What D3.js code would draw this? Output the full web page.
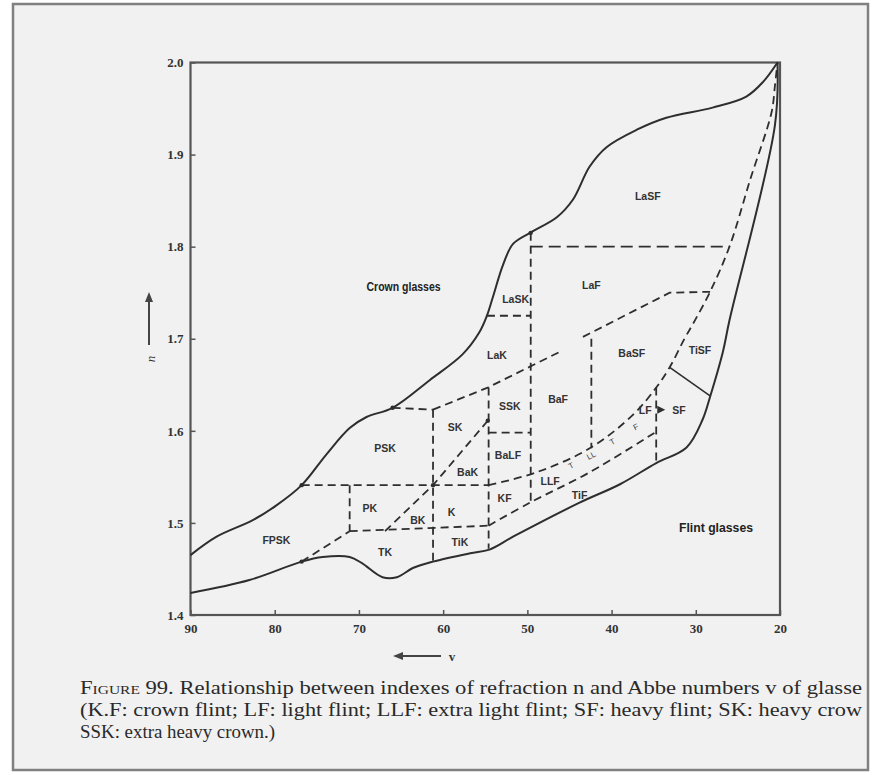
<!DOCTYPE html>
<html>
<head>
<meta charset="utf-8">
<script src="https://cdn.jsdelivr.net/npm/d3@7"></script>
<style>
  html, body { margin: 0; padding: 0; background: #ffffff; }
  svg { display: block; }
</style>
</head>
<body>
<svg id="chart" width="880" height="775"></svg>
<script>
// ---------- data (Abbe number v, refractive index n) ----------
const abbeTicks = [90, 80, 70, 60, 50, 40, 30, 20];
const indexTicks = [1.4, 1.5, 1.6, 1.7, 1.8, 1.9, 2.0];

// upper boundary of the glass field (crown side)
const upperV = [90.0, 86.9, 82.6, 79.8, 76.8, 73.9, 71.1, 69.1, 66.0, 61.6, 57.7, 55.7, 54.8, 54.1, 52.9, 51.7, 49.7, 46.5, 44.6, 42.6, 40.6, 37.0, 33.5, 28.0, 24.0, 22.0, 20.3];
const upperN = [1.465, 1.485, 1.503, 1.519, 1.541, 1.574, 1.603, 1.615, 1.625, 1.655, 1.683, 1.707, 1.725, 1.745, 1.780, 1.803, 1.815, 1.832, 1.851, 1.887, 1.908, 1.927, 1.940, 1.951, 1.963, 1.979, 2.000];

// lower boundary of the glass field (flint side)
const lowerV = [20.3, 20.6, 26.0, 26.8, 28.3, 29.2, 31.1, 34.7, 39.0, 43.8, 51.7, 54.5, 56.8, 61.2, 63.6, 65.5, 67.2, 69.6, 71.1, 74.3, 76.8, 83.0, 90.0];
const lowerN = [2.000, 1.932, 1.720, 1.685, 1.637, 1.612, 1.582, 1.565, 1.542, 1.522, 1.485, 1.471, 1.467, 1.458, 1.451, 1.441, 1.441, 1.456, 1.463, 1.463, 1.458, 1.438, 1.424];

// dashed band boundaries (curved)
const bandUpperV = [54.6, 48.9, 42.6, 37.5, 34.7, 33.1, 31.4, 30.1, 28.3, 26.0, 23.5, 21.0, 20.6, 20.3];
const bandUpperN = [1.541, 1.555, 1.581, 1.617, 1.647, 1.669, 1.699, 1.720, 1.751, 1.800, 1.874, 1.946, 1.975, 2.000];
const bandMiddleV = [54.6, 49.7, 42.6, 34.7];
const bandMiddleN = [1.497, 1.522, 1.555, 1.599];

// dashed straight boundaries [v, n]
const n18Line    = [[49.6, 1.800], [26.0, 1.800]];
const laskBase   = [[54.8, 1.725], [49.6, 1.725]];
const v50Line    = [[49.6, 1.815], [49.6, 1.520]];
const lakBase    = [[61.2, 1.623], [54.7, 1.647], [46.1, 1.686]];
const pskTop     = [[66.0, 1.625], [61.2, 1.623]];
const v61Line    = [[61.2, 1.623], [61.2, 1.458]];
const v55Line    = [[54.6, 1.647], [54.6, 1.472]];
const skDiagonal = [[66.9, 1.491], [61.2, 1.541], [54.7, 1.611]];
const balfTop    = [[54.6, 1.598], [49.6, 1.598]];
const n154Line   = [[76.8, 1.541], [54.6, 1.541]];
const pkLeft     = [[71.1, 1.541], [71.1, 1.491]];
const pkBottom   = [[71.1, 1.491], [54.6, 1.497]];
const fpskLine   = [[76.8, 1.458], [71.1, 1.491]];
const basfTop    = [[43.4, 1.702], [33.1, 1.750], [28.3, 1.751]];
const v42Line    = [[42.4, 1.700], [42.4, 1.581]];
const v35Line    = [[34.7, 1.647], [34.7, 1.565]];
const tisfDivider = [[33.1, 1.669], [28.3, 1.638]];

// region labels
const regionNames = ["LaSF", "LaF", "LaSK", "LaK", "BaSF", "TiSF", "SSK", "BaF", "BaLF", "KF", "SK", "PSK", "BaK", "PK", "BK", "K", "TK", "TiK", "FPSK", "TiF", "LLF", "LF", "SF"];
const regionV = [35.7, 42.4, 51.4, 53.6, 37.6, 29.5, 52.1, 46.35, 52.3, 52.7, 58.6, 66.9, 57.1, 68.7, 63.0, 59.0, 66.9, 58.0, 79.8, 43.8, 47.3, 36.0, 32.0];
const regionN = [1.855, 1.758, 1.743, 1.682, 1.684, 1.688, 1.627, 1.635, 1.574, 1.527, 1.604, 1.581, 1.555, 1.516, 1.503, 1.512, 1.468, 1.479, 1.481, 1.530, 1.545, 1.623, 1.623];

// tiny marks inside the LLF/LF band
const bandMarks = ["T", "LL", "T", "F"];
const bandMarkV = [44.8, 42.4, 39.9, 37.1];
const bandMarkN = [1.562, 1.573, 1.588, 1.604];

const fieldNames = ["Crown glasses", "Flint glasses"];
const fieldV = [64.7, 27.6];
const fieldN = [1.756, 1.494];

const captionLines = [
  "Figure 99. Relationship between indexes of refraction n and Abbe numbers v of glasse",
  "(K.F: crown flint; LF: light flint; LLF: extra light flint; SF: heavy flint; SK: heavy crow",
  "SSK: extra heavy crown.)"
];

// ---------- drawing ----------
const svg = d3.select("#chart");
const ink = "#2e2e2e";

// page frame
svg.append("rect").attr("x", 13).attr("y", 4).attr("width", 855).attr("height", 766)
  .attr("fill", "#f1f1f1").attr("stroke", "#808080").attr("stroke-width", 2.5);

const x = d3.scaleLinear().domain([90, 20]).range([190.5, 780]);
const y = d3.scaleLinear().domain([1.4, 2.0]).range([615, 62.5]);

const zip = (vs, ns) => vs.map((v, i) => [v, ns[i]]);
const smooth = d3.line().x(d => x(d[0])).y(d => y(d[1])).curve(d3.curveCatmullRom.alpha(0.5));
const straight = d3.line().x(d => x(d[0])).y(d => y(d[1]));

// plot frame
svg.append("rect").attr("x", x(90)).attr("y", y(2.0))
  .attr("width", x(20) - x(90)).attr("height", y(1.4) - y(2.0))
  .attr("fill", "none").attr("stroke", "#555").attr("stroke-width", 2.2);

// axes
const xAxis = d3.axisBottom(x).tickValues(abbeTicks).tickSizeInner(-5).tickSizeOuter(0).tickPadding(9)
  .tickFormat(d3.format("d"));
const yAxis = d3.axisLeft(y).tickValues(indexTicks).tickSizeInner(-5).tickSizeOuter(0).tickPadding(7)
  .tickFormat(d3.format(".1f"));

const gx = svg.append("g").attr("transform", `translate(0,${y(1.4)})`).call(xAxis);
const gy = svg.append("g").attr("transform", `translate(${x(90)},0)`).call(yAxis);
[gx, gy].forEach(g => {
  g.select(".domain").remove();
  g.selectAll(".tick line").attr("stroke", "#555").attr("stroke-width", 1.5);
  g.selectAll(".tick text").attr("fill", "#333")
    .style("font-family", "'Liberation Serif', serif").style("font-size", "13px").style("font-weight", "bold");
});

// solid outer boundaries
const solid = svg.append("g").attr("fill", "none").attr("stroke", ink).attr("stroke-width", 2);
solid.append("path").attr("d", smooth(zip(upperV, upperN)));
solid.append("path").attr("d", smooth(zip(lowerV, lowerN)));
solid.append("path").attr("d", straight(tisfDivider)).attr("stroke-width", 1.6);

// dashed boundaries
const dashed = svg.append("g").attr("fill", "none").attr("stroke", ink)
  .attr("stroke-width", 1.8).attr("stroke-dasharray", "8,5");
dashed.append("path").attr("d", smooth(zip(bandUpperV, bandUpperN)));
dashed.append("path").attr("d", smooth(zip(bandMiddleV, bandMiddleN)));
[n18Line, laskBase, v50Line, lakBase, pskTop, v61Line, v55Line, skDiagonal, balfTop,
 n154Line, pkLeft, pkBottom, fpskLine, basfTop, v42Line, v35Line].forEach(seg => {
  dashed.append("path").attr("d", straight(seg));
});
dashed.select("path:nth-child(3)").attr("stroke-dasharray", "12,6");

// junction dots
const dots = [[76.8, 1.541], [66.0, 1.625], [61.2, 1.541], [76.8, 1.458], [54.7, 1.611], [49.6, 1.815]];
svg.append("g").selectAll("circle").data(dots).join("circle")
  .attr("cx", d => x(d[0])).attr("cy", d => y(d[1])).attr("r", 2.2).attr("fill", ink);

// region labels
const lab = svg.append("g").attr("fill", "#333")
  .style("font-family", "'Liberation Sans', sans-serif").style("font-size", "10.5px").style("font-weight", "bold");
lab.selectAll("text").data(regionNames).join("text")
  .attr("x", (d, i) => x(regionV[i])).attr("y", (d, i) => y(regionN[i]))
  .attr("text-anchor", "middle").attr("dominant-baseline", "central").text(d => d);

// arrow between LF and SF
const arrowV = 34.1, arrowN = 1.623;
svg.append("path")
  .attr("d", `M${x(arrowV) - 4},${y(arrowN) - 4} L${x(arrowV) + 4},${y(arrowN)} L${x(arrowV) - 4},${y(arrowN) + 4} Z`)
  .attr("fill", ink);

// tiny band marks
svg.append("g").attr("fill", "#444")
  .style("font-family", "'Liberation Sans', sans-serif").style("font-size", "8px")
  .selectAll("text").data(bandMarks).join("text")
  .attr("transform", (d, i) => `translate(${x(bandMarkV[i])},${y(bandMarkN[i])}) rotate(-28)`)
  .attr("text-anchor", "middle").attr("dominant-baseline", "central").text(d => d);

// field labels
svg.append("g").attr("fill", "#222")
  .style("font-family", "'Liberation Sans', sans-serif").style("font-size", "12.5px").style("font-weight", "bold")
  .selectAll("text").data(fieldNames).join("text")
  .attr("x", (d, i) => x(fieldV[i])).attr("y", (d, i) => y(fieldN[i]))
  .attr("text-anchor", "middle").attr("dominant-baseline", "central").attr("textLength", 74)
  .attr("lengthAdjust", "spacingAndGlyphs").text(d => d);

// axis titles (arrow + symbol)
const axG = svg.append("g").attr("stroke", "#444").attr("fill", "#444");
axG.append("line").attr("x1", 149).attr("y1", 298).attr("x2", 149).attr("y2", 345).attr("stroke-width", 2);
axG.append("path").attr("d", "M149,292 L145,302 L153,302 Z").attr("stroke", "none");
svg.append("text").attr("transform", "translate(150,359) rotate(-90)")
  .attr("text-anchor", "middle").attr("dominant-baseline", "central")
  .style("font-family", "'Liberation Serif', serif").style("font-style", "italic").style("font-size", "13px")
  .attr("fill", "#333").text("n");
axG.append("line").attr("x1", 400).attr("y1", 656).attr("x2", 441).attr("y2", 656).attr("stroke-width", 2);
axG.append("path").attr("d", "M393,656 L403,652 L403,660 Z").attr("stroke", "none");
svg.append("text").attr("x", 452).attr("y", 656)
  .attr("text-anchor", "middle").attr("dominant-baseline", "central")
  .style("font-family", "'Liberation Serif', serif").style("font-size", "13px").style("font-weight", "bold")
  .attr("fill", "#333").text("v");

// caption
const cap = svg.append("g").attr("fill", "#2a2a2a")
  .style("font-family", "'Liberation Serif', serif").style("font-size", "19px");
const capLengths = [782, 782, 195];
cap.selectAll("text").data(captionLines).join("text")
  .attr("x", 80).attr("y", (d, i) => 694 + i * 22)
  .attr("textLength", (d, i) => capLengths[i]).attr("lengthAdjust", "spacingAndGlyphs")
  .style("font-variant", (d, i) => null)
  .each(function(d, i) {
    const t = d3.select(this);
    if (i === 0) {
      t.append("tspan").style("font-variant", "small-caps").text("Figure 99.");
      t.append("tspan").text(d.slice("Figure 99.".length));
    } else {
      t.text(d);
    }
  });
</script>
</body>
</html>
